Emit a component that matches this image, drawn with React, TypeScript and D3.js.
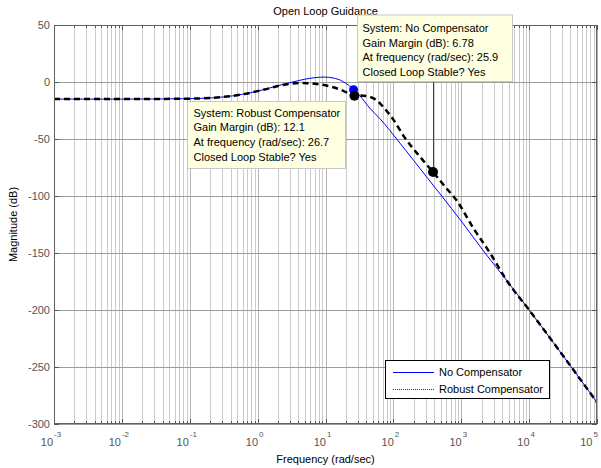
import React from "react";
import * as d3 from "d3";

const title = "Open Loop Guidance";
const xLabel = "Frequency  (rad/sec)";
const yLabel = "Magnitude (dB)";
const yTicks = [50, 0, -50, -100, -150, -200, -250, -300];
const xDecades = [-3, -2, -1, 0, 1, 2, 3, 4, 5];

const noCompFreq = [0.001, 0.01, 0.1, 0.3, 0.6, 1, 1.5, 2, 3, 5, 7, 9.5, 13, 18, 22, 25.9, 32, 45, 63, 112, 200, 515, 1000, 2240, 4667, 10000, 100000];
const noCompMag = [-15, -15, -14.6, -13.2, -10.8, -8, -5.3, -3.2, -0.6, 2.5, 3.8, 4.3, 3.5, 0.5, -3, -6.78, -12, -23, -32, -50, -69, -100, -122, -150, -174, -200, -281];

const robustFreq = [0.001, 0.01, 0.1, 0.3, 0.6, 1, 1.5, 2, 3, 4, 5.5, 8, 12, 18, 26.7, 32, 42, 55, 70, 100, 148, 250, 384, 600, 857, 1500, 2655, 4667, 10000, 100000];
const robustMag = [-15, -15, -14.6, -13.2, -10.8, -8, -5.5, -3.5, -1.5, -0.9, -1, -2, -4, -7.5, -12.1, -11.8, -12.6, -15.5, -21.5, -33, -49, -66, -79, -93, -104, -128, -150, -174, -200, -281];

const seriesNames = ["No Compensator", "Robust Compensator"];

const tipNoComp = ["System: No Compensator", "Gain Margin (dB): 6.78", "At frequency (rad/sec): 25.9", "Closed Loop Stable? Yes"];
const tipRobust = ["System: Robust Compensator", "Gain Margin (dB): 12.1", "At frequency (rad/sec): 26.7", "Closed Loop Stable? Yes"];
const markerFreq = [25.9, 26.7, 384];
const markerMag = [-6.78, -12.1, -79];

export default function App() {
  const W = 601, H = 468;
  const L = 54, R = 597, T = 25, B = 424;
  const x = d3.scaleLog().domain([1e-3, 1e5]).range([L, R]);
  const y = d3.scaleLinear().domain([-300, 50]).range([B, T]);
  const font = "'Liberation Sans', Arial, sans-serif";

  const line = d3.line<[number, number]>()
    .x((d) => x(d[0]))
    .y((d) => y(d[1]))
    .curve(d3.curveMonotoneX);
  const blueD = line(noCompFreq.map((f, i) => [f, noCompMag[i]]) as [number, number][]) || "";
  const blackD = line(robustFreq.map((f, i) => [f, robustMag[i]]) as [number, number][]) || "";

  const minor: number[] = [];
  const major: number[] = [];
  xDecades.forEach((d, i) => {
    major.push(Math.pow(10, d));
    if (i < xDecades.length - 1) for (let k = 2; k <= 9; k++) minor.push(k * Math.pow(10, d));
  });

  const boxNo = { x0: 357.5, y0: 15, x1: 512.5, y1: 81.5 };
  const boxRb = { x0: 187.5, y0: 101.5, x1: 345.5, y1: 168.5 };
  const px = (v: number) => Math.round(v) + 0.5;

  return (
    <svg width={W} height={H} style={{ position: "absolute", left: 0, top: 0, background: "#fff" }} fontFamily={font}>
      <defs>
        <clipPath id="plotclip">
          <rect x={L} y={T} width={R - L} height={B - T} />
        </clipPath>
      </defs>
      <rect x={0} y={0} width={W} height={H} fill="#fff" />
      {/* grid */}
      {minor.map((f, i) => (
        <line key={"mg" + i} x1={px(x(f))} x2={px(x(f))} y1={T} y2={B} stroke="#cbcbcb" strokeWidth={1} />
      ))}
      {major.map((f, i) => (
        <line key={"Mg" + i} x1={px(x(f))} x2={px(x(f))} y1={T} y2={B} stroke="#b4b4b4" strokeWidth={1} />
      ))}
      {yTicks.map((t) => (
        <line key={"hg" + t} x1={L} x2={R} y1={px(y(t))} y2={px(y(t))} stroke="#9c9c9c" strokeWidth={1} />
      ))}
      {/* ticks */}
      {minor.map((f, i) => (
        <g key={"mt" + i} stroke="#555">
          <line x1={px(x(f))} x2={px(x(f))} y1={T} y2={T + 3} />
          <line x1={px(x(f))} x2={px(x(f))} y1={B} y2={B - 3} />
        </g>
      ))}
      {major.map((f, i) => (
        <g key={"Mt" + i} stroke="#555">
          <line x1={px(x(f))} x2={px(x(f))} y1={T} y2={T + 5} />
          <line x1={px(x(f))} x2={px(x(f))} y1={B} y2={B - 5} />
        </g>
      ))}
      {yTicks.map((t) => (
        <g key={"yt" + t} stroke="#555">
          <line x1={L} x2={L + 5} y1={px(y(t))} y2={px(y(t))} />
          <line x1={R} x2={R - 5} y1={px(y(t))} y2={px(y(t))} />
        </g>
      ))}
      {/* curves */}
      <g clipPath="url(#plotclip)">
        <path d={blueD} fill="none" stroke="#0000ff" strokeWidth={1} />
        <path d={blackD} fill="none" stroke="#000" strokeWidth={2.5} strokeDasharray="6,4" />
      </g>
      {/* axes box */}
      <rect x={L + 0.5} y={T + 0.5} width={R - L - 1} height={B - T - 1} fill="none" stroke="#606060" strokeWidth={1} />
      {/* y tick labels */}
      {yTicks.map((t) => (
        <text key={"yl" + t} x={L - 4} y={y(t)} dy="0.35em" textAnchor="end" fontSize={11} fill="#555">
          {t}
        </text>
      ))}
      {/* x tick labels */}
      {xDecades.map((d, i) => (
        <text key={"xl" + d} x={Math.min(x(Math.pow(10, d)) - 3, 589)} y={446} textAnchor="middle" fontSize={11} fill="#555">
          10
          <tspan dx={1} dy={-9} fontSize={8}>{d}</tspan>
        </text>
      ))}
      {/* titles */}
      <text x={(L + R) / 2} y={15} textAnchor="middle" fontSize={11} fill="#000">{title}</text>
      <text x={(L + R) / 2} y={463} textAnchor="middle" fontSize={11} fill="#000">{xLabel}</text>
      <text transform={`translate(17,${(T + B) / 2}) rotate(-90)`} textAnchor="middle" fontSize={11} fill="#000">{yLabel}</text>

      {/* data tip connector */}
      <line x1={px(x(markerFreq[2]))} x2={px(x(markerFreq[2]))} y1={boxNo.y1} y2={y(markerMag[2])} stroke="#444" strokeWidth={1} />
      {/* markers */}
      <circle cx={x(markerFreq[0])} cy={y(markerMag[0])} r={4.5} fill="#0000ff" />
      <circle cx={x(markerFreq[1])} cy={y(markerMag[1])} r={5} fill="#000" />
      <circle cx={x(markerFreq[2])} cy={y(markerMag[2])} r={5} fill="#000" />

      {/* data tip boxes */}
      <rect x={boxNo.x0} y={boxNo.y0} width={boxNo.x1 - boxNo.x0} height={boxNo.y1 - boxNo.y0} fill="#ffffe1" stroke="#c8c8c8" strokeWidth={1} />
      {tipNoComp.map((s, i) => (
        <text key={"tn" + i} x={boxNo.x0 + 5} y={boxNo.y0 + 17 + i * 14.5} fontSize={11} fill="#000">{s}</text>
      ))}
      <rect x={boxRb.x0} y={boxRb.y0} width={boxRb.x1 - boxRb.x0} height={boxRb.y1 - boxRb.y0} fill="#ffffe1" stroke="#c8c8c8" strokeWidth={1} />
      {tipRobust.map((s, i) => (
        <text key={"tr" + i} x={boxRb.x0 + 6} y={boxRb.y0 + 15 + i * 14.7} fontSize={11} fill="#000">{s}</text>
      ))}

      {/* legend */}
      <rect x={385.5} y={360.5} width={164} height={38} fill="#fff" stroke="#000" strokeWidth={1} />
      <line x1={393} x2={434} y1={372.5} y2={372.5} stroke="#0000ff" strokeWidth={1} />
      <line x1={393} x2={434} y1={389.5} y2={389.5} stroke="#000" strokeWidth={0.8} strokeDasharray="1,1" />
      <text x={439} y={376} fontSize={11} fill="#000">{seriesNames[0]}</text>
      <text x={439} y={393} fontSize={11} fill="#000">{seriesNames[1]}</text>
    </svg>
  );
}
